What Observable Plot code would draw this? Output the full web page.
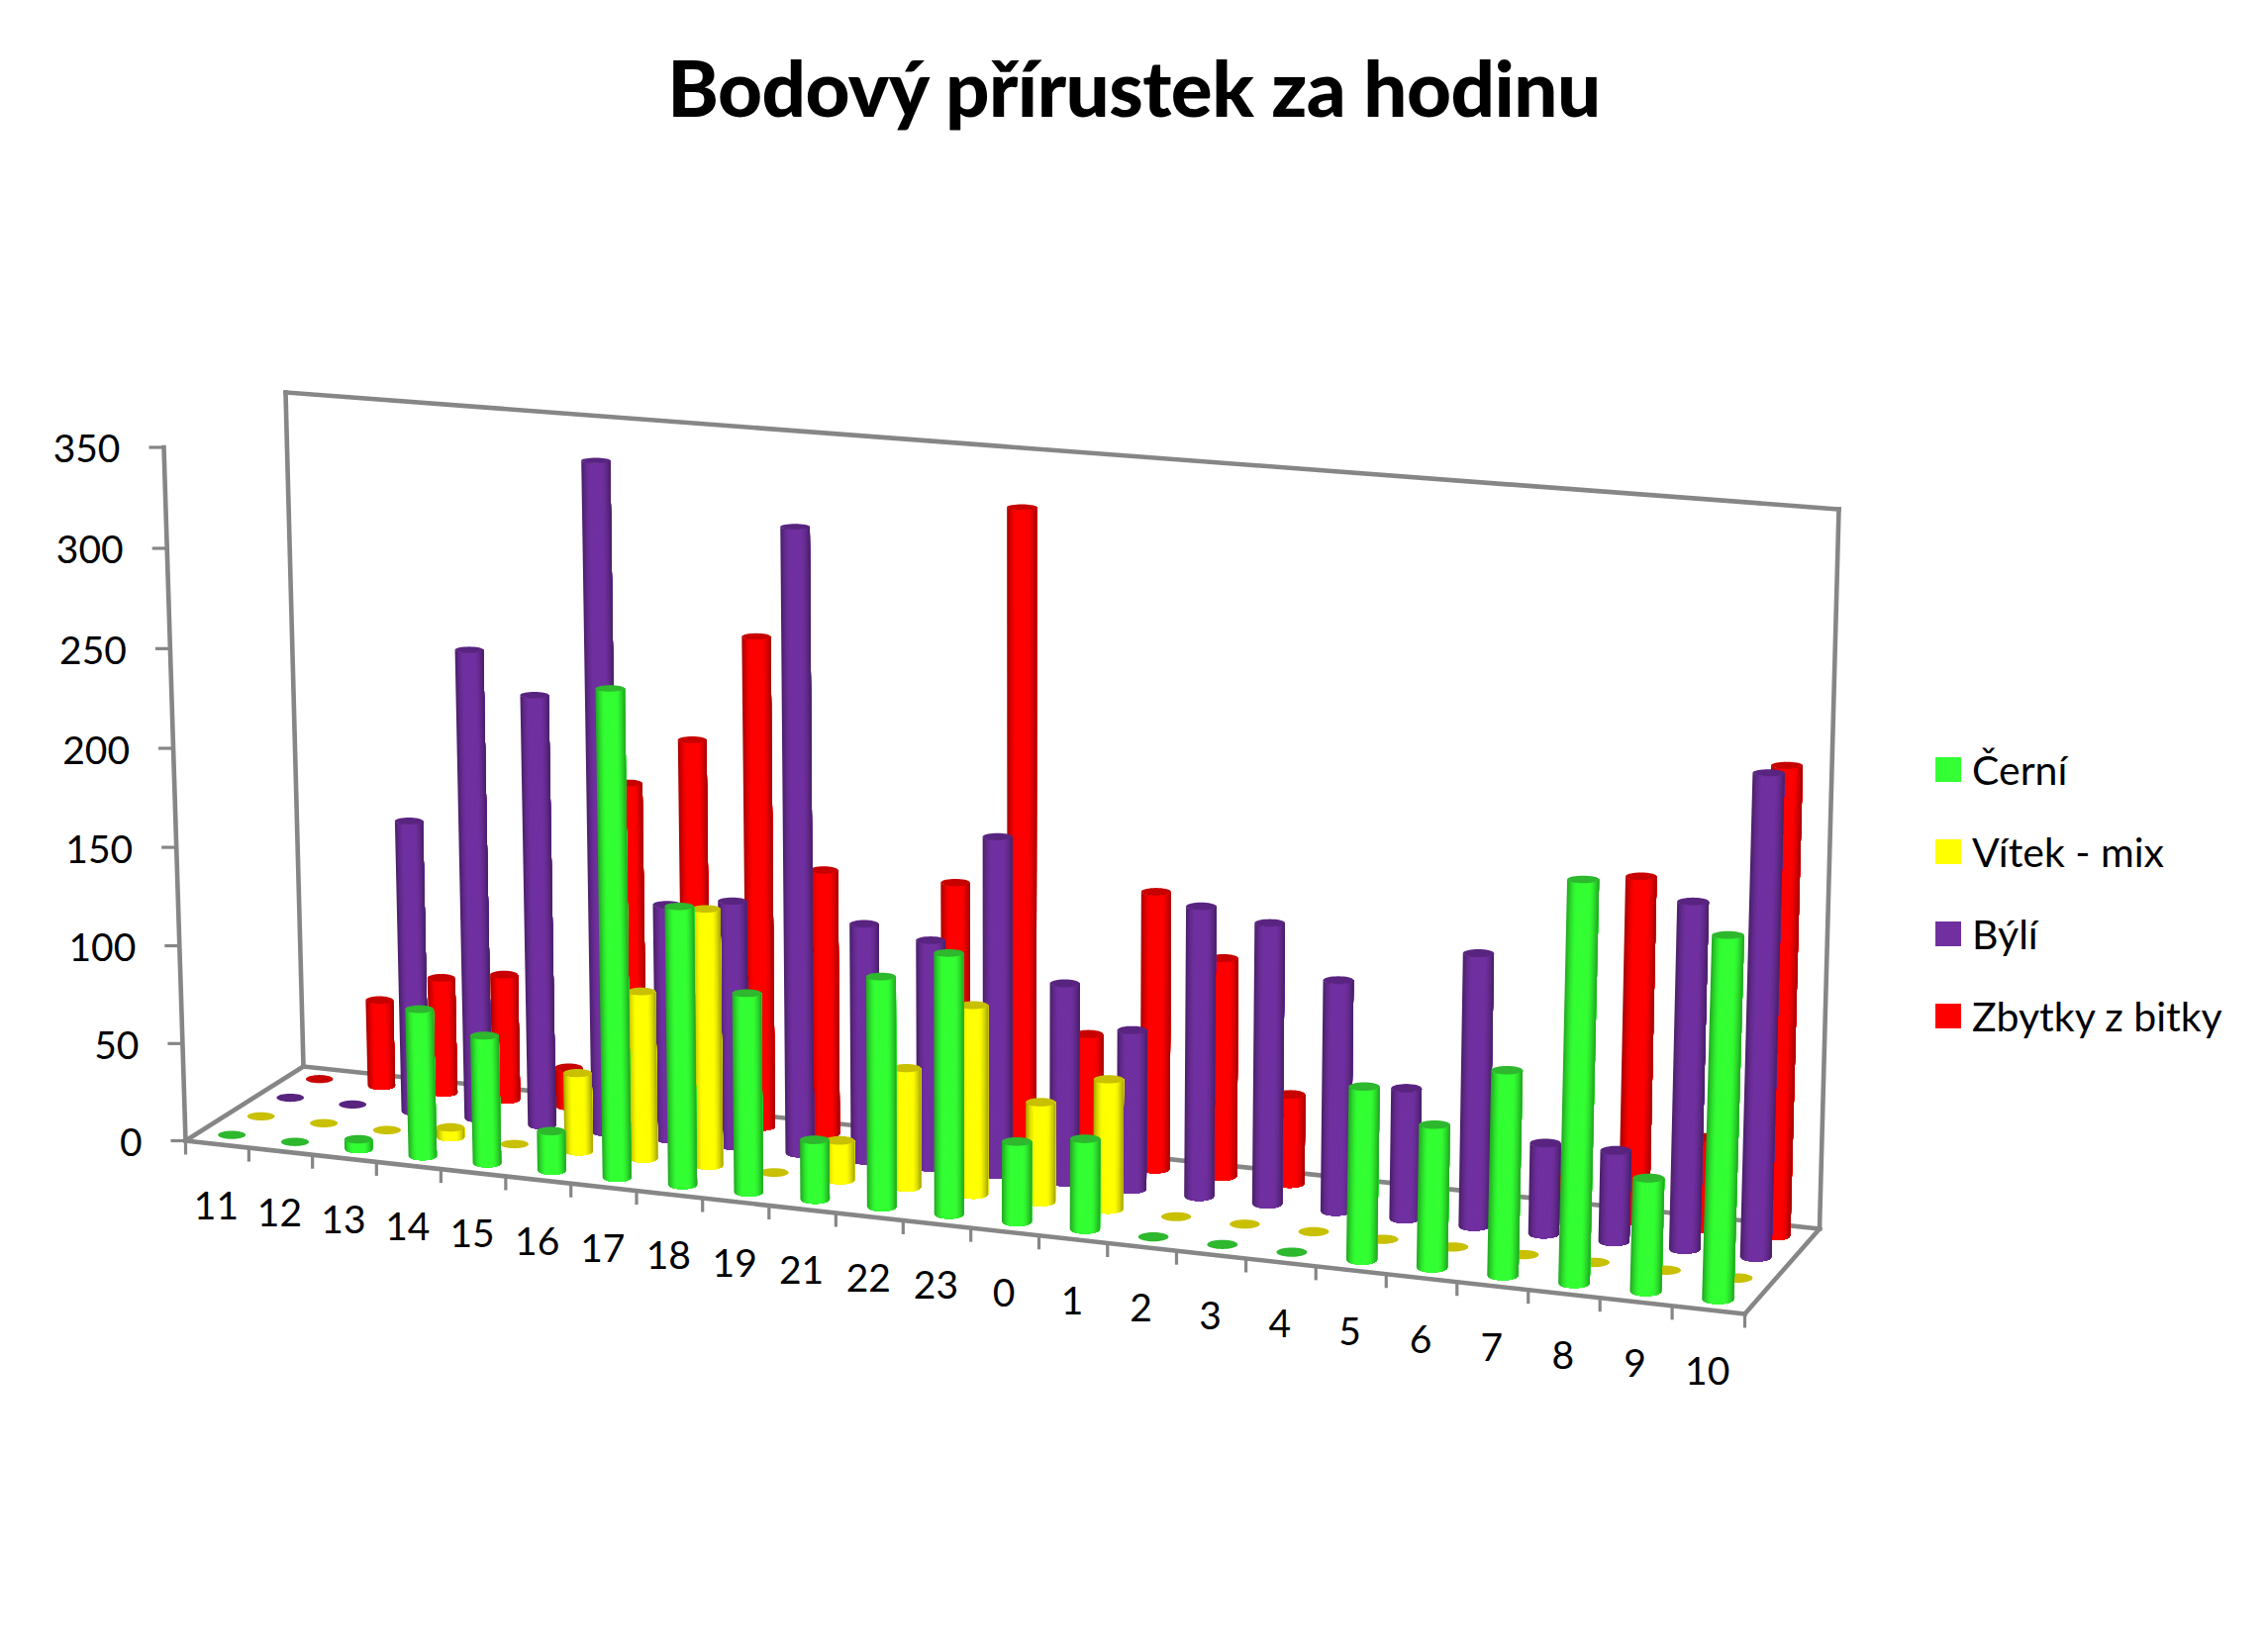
<!DOCTYPE html>
<html lang="cs">
<head>
<meta charset="utf-8">
<script src="https://cdn.jsdelivr.net/npm/d3@7"></script>
<script src="https://cdn.jsdelivr.net/npm/@observablehq/plot@0.6"></script>
<style>
html,body{margin:0;padding:0;background:#fff;width:2291px;height:1665px;overflow:hidden;font-family:Lato,sans-serif}
#title{height:140px;line-height:176px;text-align:center;font-weight:900;font-size:78px;letter-spacing:-0.5px;color:#000}
#legend{position:absolute;left:1955px;top:736px}
#legend .row{display:flex;align-items:center;height:83px;font-size:41px;color:#000;white-space:nowrap}
#legend .sw{width:26px;height:25px;margin-right:11px;display:block}
#chart svg{display:block}
</style>
</head>
<body>
<div id="title">Bodový přírustek za hodinu</div>
<div id="chart"></div>
<div id="legend"></div>
<script>
const categories = ["11","12","13","14","15","16","17","18","19","21","22","23","0","1","2","3","4","5","6","7","8","9","10"];
const cerni  = [0,0,5,75,65,20,245,140,100,30,115,130,40,45,0,0,0,85,70,100,195,55,175];
const vitek  = [0,0,0,5,0,40,85,130,0,20,60,95,50,65,0,0,0,0,0,0,0,0,0];
const byli   = [0,0,150,240,220,340,120,125,315,120,115,170,100,80,145,140,115,65,135,45,45,170,235];
const zbytky = [0,45,60,65,20,170,195,250,135,0,135,325,65,140,110,45,0,0,5,20,170,45,230];
const seriesNames = ["Černí","Vítek - mix","Býlí","Zbytky z bitky"];
const seriesValues = [cerni,vitek,byli,zbytky];
const seriesColors = ["#33ff33","#ffff00","#7030a0","#ff0000"];
const capColors = ["#2db82d","#c8c000","#592480","#c80000"];
const yTicks = [0,50,100,150,200,250,300,350];
const yMax = 350;

// The chart's 3D box, as seen in the picture: corners of the floor and of the ceiling
const box = {
  f0:[187,1152], f1:[1762,1327], b0:[306,1077], b1:[1837.5,1241],
  F0:[165,451.5], F1:[1784,579], B0:[288,396], B1:[1857,514]
};
const warp = (t,a) => a*t/(a*t+1-t);
const lerp = (p,q,t) => [p[0]+(q[0]-p[0])*t, p[1]+(q[1]-p[1])*t];
function project(u,d,v){
  const U = warp(u,.93), V = warp(v,.978);
  const floor = lerp(lerp(box.f0,box.f1,U), lerp(box.b0,box.b1,U), d);
  const ceil  = lerp(lerp(box.F0,box.F1,U), lerp(box.B0,box.B1,U), d);
  return lerp(floor,ceil,V);
}
const n = categories.length;
const barWidth = 0.44/n;
const strips = 24;
function shade(hex,s){
  const k = Math.abs(s);
  const m = k<0.4 ? 1 : 1-0.36*Math.pow((k-0.4)/0.6,1.5);
  const c = d3.rgb(hex);
  return d3.rgb(c.r*m,c.g*m,c.b*m).formatHex();
}
// One table of polygons, back row first so that the nearer cylinders paint over it.
// Each shading band runs to the right edge and the next band overpaints it, so no seams show.
const polys = [];
const arc = s=>Math.sqrt(Math.max(0,1-s*s));
for (let si=3; si>=0; si--){
  const depth = (si+.5)/4;
  seriesValues[si].forEach((val,i)=>{
    const u = (i+.5)/n, v = val/yMax;
    const bc = project(u,depth,0), tc = project(u,depth,v);
    const rb = (project(u+barWidth/2,depth,0)[0]-project(u-barWidth/2,depth,0)[0])/2;
    const rt = (project(u+barWidth/2,depth,v)[0]-project(u-barWidth/2,depth,v)[0])/2;
    const ryb = rb*0.30, ryt = rt*(0.30-0.12*v);
    const id = `${si}-${i}`;
    if (val>0){
      for (let k=0;k<strips;k++){
        const s1=-1+2*k/strips;
        const color = shade(seriesColors[si],s1+1/strips);
        const sid = `${id}-${k}`;
        const ss = d3.range(k,strips+1).map(j=>-1+2*j/strips);
        ss.forEach(s=>polys.push({id:sid,px:bc[0]+rb*s,py:bc[1]+ryb*arc(s),color}));
        ss.slice().reverse().forEach(s=>polys.push({id:sid,px:tc[0]+rt*s,py:tc[1]+ryt*arc(s),color}));
      }
    }
    for (let a=0;a<36;a++){
      const t=a/36*2*Math.PI;
      polys.push({id:`${id}-cap`,px:tc[0]+rt*Math.cos(t),py:tc[1]+ryt*Math.sin(t),color:capColors[si]});
    }
  });
}
const edges = [[[0,0,0],[1,0,0]],[[0,0,0],[0,1,0]],[[1,0,0],[1,1,0]],[[0,1,0],[1,1,0]],
  [[0,0,0],[0,0,1]],[[0,1,0],[0,1,1]],[[1,1,0],[1,1,1]],[[0,1,1],[1,1,1]]];
const frame = edges.flatMap((e,k)=>e.map(c=>{const p=project(...c);return {k,px:p[0],py:p[1]};}));
const yTickRows = yTicks.map(t=>{const p=project(0,0,t/yMax);return {t:String(t),px:p[0],py:p[1]};});
const catTickRows = d3.range(n+1).map(i=>{const p=project(i/n,0,0);return {px:p[0],py:p[1]};});
const catLabelRows = categories.map((c,i)=>{const p=project((i+.5)/n,0,0);return {c,px:p[0]-1,py:p[1]+63};});
const grey = "#868686";
const chart = Plot.plot({
  width:2291,height:1525,margin:0,
  style:{fontFamily:"Lato,sans-serif",background:"#fff"},
  x:{domain:[0,2291],axis:null},
  y:{domain:[1665,140],axis:null},
  color:{type:"identity"},
  marks:[
    Plot.line(frame,{x:"px",y:"py",z:"k",stroke:grey,strokeWidth:4.6,strokeLinecap:"square"}),
    Plot.link(yTickRows,{x1:d=>d.px-15,x2:"px",y1:"py",y2:"py",stroke:grey,strokeWidth:3.2}),
    Plot.link(catTickRows,{x1:"px",x2:"px",y1:"py",y2:d=>d.py+14,stroke:grey,strokeWidth:3.2}),
    Plot.line(polys,{x:"px",y:"py",z:"id",fill:"color",stroke:"none"}),
    Plot.text(yTickRows,{x:d=>d.px-44,y:d=>d.py+3,text:"t",textAnchor:"end",fontSize:39,fill:"#000"}),
    Plot.text(catLabelRows,{x:"px",y:"py",text:"c",fontSize:39,fill:"#000"})
  ]
});
document.getElementById("chart").append(chart);
const legend = document.getElementById("legend");
seriesNames.forEach((name,i)=>{
  const row=document.createElement("div");row.className="row";
  const sw=document.createElement("span");sw.className="sw";sw.style.background=seriesColors[i];
  const tx=document.createElement("span");tx.textContent=name;
  row.append(sw,tx);legend.append(row);
});
</script>
</body>
</html>
